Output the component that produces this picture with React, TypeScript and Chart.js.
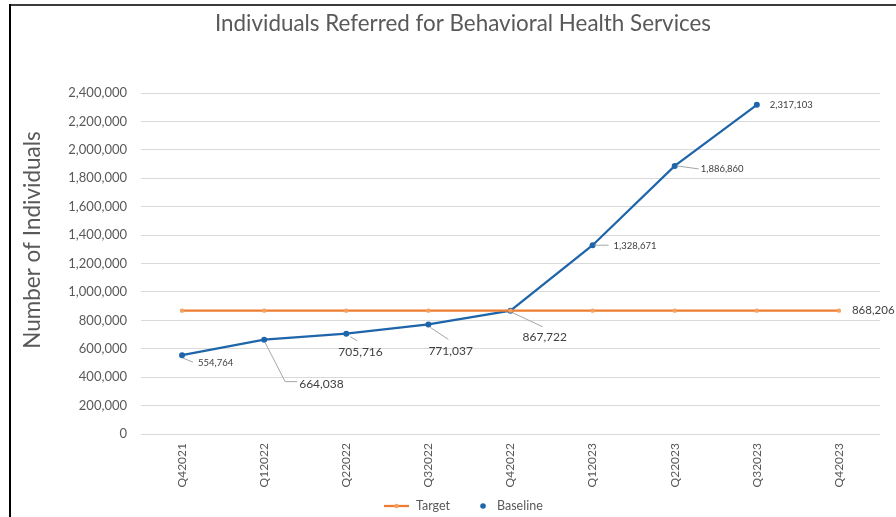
import React, { useEffect, useRef } from "react";
import { Chart, registerables } from "chart.js";

Chart.register(...registerables);

// ---------- data ----------
const categories = [
  "Q42021", "Q12022", "Q22022", "Q32022", "Q42022",
  "Q12023", "Q22023", "Q32023", "Q42023",
];
const targetValues = [
  868206, 868206, 868206, 868206, 868206, 868206, 868206, 868206, 868206,
];
const baselineValues: (number | null)[] = [
  554764, 664038, 705716, 771037, 867722, 1328671, 1886860, 2317103, null,
];
const yMin = 0;
const yMax = 2400000;
const yStep = 200000;
const chartTitle = "Individuals Referred for Behavioral Health Services";
const yAxisTitle = "Number of Individuals";
const seriesNames = ["Target", "Baseline"];

// ---------- styles ----------
const ORANGE = "#ED7D31";
const ORANGE_PT = "#F5A05E";
const BLUE = "#1F65AA";
const TEXT = "#595959";
const LABEL = "#404040";
const GRID = "#D9D9D9";
const LEADER = "#A6A6A6";
const FONT = "Lato, 'Open Sans', sans-serif";

// label placement relative to each baseline point (pixels)
const baselineLabelStyle = [
  { dx: 16, dy: 8, size: 9.5, leader: [[1, 3], [11, 7]] },
  { dx: 35, dy: 44, size: 12, leader: [[1, 3], [21, 42], [33, 42]] },
  { dx: -8, dy: 18, size: 12, leader: [[4, 3], [11, 7]] },
  { dx: 0, dy: 27, size: 12, leader: [[2, 3], [20, 15]] },
  { dx: 12, dy: 26, size: 12, leader: [[2, 2], [32, 16]] },
  { dx: 21, dy: 1, size: 9.5, leader: [[2, 0], [16, 0]] },
  { dx: 26, dy: 3, size: 9.5, leader: [[2, 0], [24, 3]] },
  { dx: 13, dy: 0, size: 9.5, leader: [] as number[][] },
];
const targetLabelStyle = { index: 8, dx: 13, dy: 0, size: 11.5 };

const fmt = (v: number) => v.toLocaleString("en-US");

const decorPlugin = {
  id: "decor",
  beforeDraw(chart: any) {
    const { ctx, width, height } = chart;
    ctx.save();
    ctx.fillStyle = "#ffffff";
    ctx.fillRect(0, 0, width, height);
    // frame
    ctx.fillStyle = "#3a3a3a";
    ctx.fillRect(9, 4, width - 9, 2);
    ctx.fillStyle = "#000000";
    ctx.fillRect(9, 4, 2, height - 4);
    ctx.restore();
  },
  afterDraw(chart: any) {
    const { ctx } = chart;
    ctx.save();
    // title
    ctx.fillStyle = TEXT;
    ctx.font = `400 22.4px ${FONT}`;
    ctx.textAlign = "center";
    ctx.textBaseline = "middle";
    ctx.fillText(chartTitle, 463, 24);
    // y axis title
    ctx.save();
    ctx.translate(33, 240);
    ctx.rotate(-Math.PI / 2);
    ctx.font = `400 22.5px ${FONT}`;
    ctx.fillText(yAxisTitle, 0, 0);
    ctx.restore();

    // legend
    const ly = 506;
    ctx.font = `400 12.5px ${FONT}`;
    ctx.textAlign = "left";
    ctx.textBaseline = "middle";
    const t1 = ctx.measureText(seriesNames[0]).width;
    let x = 384;
    ctx.strokeStyle = ORANGE;
    ctx.lineWidth = 2.25;
    ctx.beginPath();
    ctx.moveTo(x, ly);
    ctx.lineTo(x + 25, ly);
    ctx.stroke();
    ctx.fillStyle = ORANGE_PT;
    ctx.beginPath();
    ctx.arc(x + 12.5, ly, 2.2, 0, Math.PI * 2);
    ctx.fill();
    x += 32;
    ctx.fillStyle = TEXT;
    ctx.fillText(seriesNames[0], x, ly);
    x += t1 + 33;
    ctx.fillStyle = BLUE;
    ctx.beginPath();
    ctx.arc(x, ly, 2.8, 0, Math.PI * 2);
    ctx.fill();
    x += 14;
    ctx.fillStyle = TEXT;
    ctx.fillText(seriesNames[1], x, ly);
    ctx.restore();
  },
  afterDatasetsDraw(chart: any) {
    const { ctx } = chart;
    const xs = chart.scales.x;
    const ys = chart.scales.y;
    ctx.save();
    ctx.textAlign = "left";
    ctx.textBaseline = "middle";
    baselineValues.forEach((v, i) => {
      if (v == null) return;
      const st = baselineLabelStyle[i];
      const px = xs.getPixelForValue(i);
      const py = ys.getPixelForValue(v);
      if (st.leader.length > 1) {
        ctx.strokeStyle = LEADER;
        ctx.lineWidth = 1;
        ctx.beginPath();
        st.leader.forEach((p, k) => {
          if (k === 0) ctx.moveTo(px + p[0], py + p[1]);
          else ctx.lineTo(px + p[0], py + p[1]);
        });
        ctx.stroke();
      }
      ctx.fillStyle = LABEL;
      ctx.font = `400 ${st.size}px ${FONT}`;
      ctx.fillText(fmt(v), px + st.dx, py + st.dy);
    });
    const ti = targetLabelStyle.index;
    const tx = xs.getPixelForValue(ti);
    const ty = ys.getPixelForValue(targetValues[ti]);
    ctx.fillStyle = LABEL;
    ctx.font = `400 ${targetLabelStyle.size}px ${FONT}`;
    ctx.fillText(fmt(targetValues[ti]), tx + targetLabelStyle.dx, ty + targetLabelStyle.dy);
    ctx.restore();
  },
};

export default function App() {
  const ref = useRef<HTMLCanvasElement | null>(null);
  useEffect(() => {
    document.body.style.margin = "0";
    if (!ref.current) return;
    const chart = new Chart(ref.current, {
      type: "line",
      data: {
        labels: categories,
        datasets: [
          {
            label: seriesNames[0],
            data: targetValues,
            borderColor: ORANGE,
            backgroundColor: ORANGE_PT,
            borderWidth: 2.25,
            pointRadius: 2.2,
            pointBorderWidth: 0,
            pointBackgroundColor: ORANGE_PT,
            tension: 0,
          },
          {
            label: seriesNames[1],
            data: baselineValues,
            borderColor: BLUE,
            backgroundColor: BLUE,
            borderWidth: 2.25,
            pointRadius: 3,
            pointBorderWidth: 0,
            pointBackgroundColor: BLUE,
            tension: 0,
          },
        ],
      },
      options: {
        responsive: false,
        animation: false,
        layout: { padding: { left: 10, right: 16, top: 93, bottom: 30 } },
        plugins: {
          legend: { display: false },
          title: { display: false },
          tooltip: { enabled: false },
        },
        scales: {
          x: {
            offset: true,
            grid: { display: false, drawTicks: false },
            border: { display: false },
            ticks: {
              color: TEXT,
              font: { family: FONT, size: 12 },
              minRotation: 90,
              maxRotation: 90,
              padding: 9,
            },
            afterFit: (s: any) => {
              s.height = 53;
            },
          },
          y: {
            min: yMin,
            max: yMax,
            ticks: {
              stepSize: yStep,
              color: TEXT,
              font: { family: FONT, size: 13 },
              padding: 14,
              callback: (v: any) => fmt(Number(v)),
            },
            grid: { color: GRID, lineWidth: 1, drawTicks: false },
            border: { display: false },
            afterFit: (s: any) => {
              s.width = 131;
            },
          },
        },
      },
      plugins: [decorPlugin],
    });
    return () => chart.destroy();
  }, []);
  return <canvas ref={ref} width={896} height={517} style={{ display: "block" }} />;
}
